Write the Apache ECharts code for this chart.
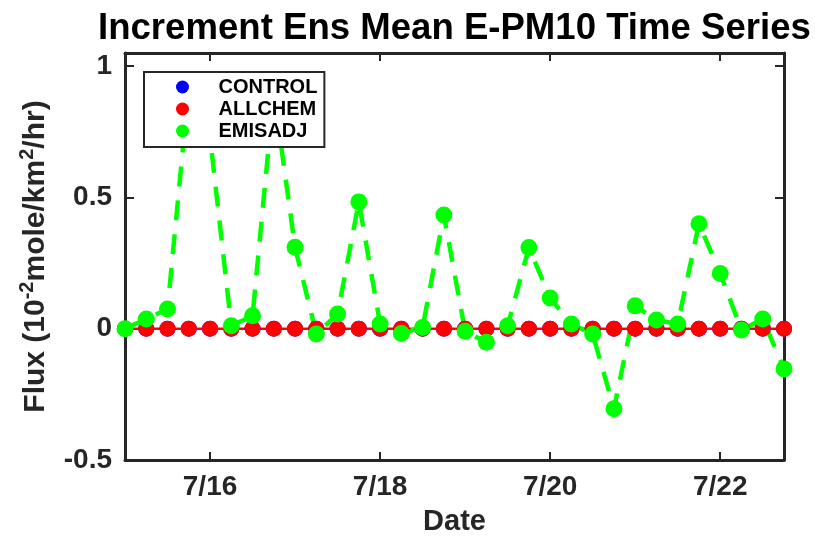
<!DOCTYPE html>
<html>
<head>
<meta charset="utf-8">
<script src="https://cdn.jsdelivr.net/npm/echarts@6/dist/echarts.min.js"></script>
<style>
  html, body { margin: 0; padding: 0; background: #fff; }
  #chart { width: 815px; height: 536px; }
</style>
</head>
<body>
<div id="chart"></div>
<script>
// Sample times, hours after 7/15 00:00 (6-hourly output)
const hours = [0, 6, 12, 18, 24, 30, 36, 42, 48, 54, 60, 66, 72, 78, 84, 90,
               96, 102, 108, 114, 120, 126, 132, 138, 144, 150, 156, 162, 168, 174, 180, 186];

// Ensemble-mean flux increments (10^-2 mole/km^2/hr)
const control = [0, 0, 0, 0, 0, 0, 0, 0, 0, 0, 0, 0, 0, 0, 0, 0,
                 0, 0, 0, 0, 0, 0, 0, 0, 0, 0, 0, 0, 0, 0, 0, 0];
const allchem = [0, 0, 0, 0, 0, 0, 0, 0, 0, 0, 0, 0, 0, 0, 0, 0,
                 0, 0, 0, 0, 0, 0, 0, 0, 0, 0, 0, 0, 0, 0, 0, 0];
const emisadj = [0, 0.037, 0.075, 0.92, 0.73, 0.011, 0.049, 0.9,
                 0.31, -0.02, 0.056, 0.483, 0.018, -0.018, 0.005, 0.433,
                 -0.01, -0.052, 0.011, 0.309, 0.117, 0.018, -0.02, -0.305,
                 0.087, 0.033, 0.018, 0.40, 0.21, -0.005, 0.037, -0.153];

// Axis ticks
const dateTickHours = [24, 72, 120, 168];
const fluxTicks = [-0.5, 0, 0.5, 1];

const FONT = '"Liberation Sans", Arial, Helvetica, sans-serif';
const AXIS_COLOR = '#262626';

function pairs(vals) {
  return hours.map((h, i) => [h, vals[i]]);
}
function dateLabel(h) {
  return '7/' + (15 + h / 24);
}

const chart = echarts.init(document.getElementById('chart'), null, { renderer: 'canvas' });

const xBase = {
  type: 'value', min: 0, max: 186, gridIndex: 0,
  splitLine: { show: false },
  axisLine: { show: true, onZero: false, lineStyle: { color: AXIS_COLOR, width: 3 } }
};

chart.setOption({
  animation: false,
  backgroundColor: '#fff',
  title: {
    text: 'Increment Ens Mean E-PM10 Time Series',
    left: 98,
    top: 10,
    padding: 0,
    textStyle: { fontFamily: FONT, fontWeight: 'bold', fontSize: 36.6, color: '#000' }
  },
  legend: {
    orient: 'vertical',
    left: 144,
    top: 72,
    padding: [4, 7, 5, 32],
    itemWidth: 14,
    itemHeight: 13,
    itemGap: 0,
    backgroundColor: '#fff',
    borderColor: AXIS_COLOR,
    borderWidth: 2,
    textStyle: { fontFamily: FONT, fontWeight: 'bold', fontSize: 20, color: '#000',
                 lineHeight: 22, padding: [0, 0, 0, 24] },
    data: [
      { name: 'CONTROL', icon: 'circle' },
      { name: 'ALLCHEM', icon: 'circle' },
      { name: 'EMISADJ', icon: 'circle' }
    ]
  },
  grid: { left: 125, right: 31, top: 53, bottom: 76, containLabel: false, outerBoundsMode: 'none' },
  xAxis: [
    Object.assign({}, xBase, {
      position: 'bottom',
      name: 'Date',
      nameLocation: 'middle',
      nameGap: 47,
      nameTextStyle: { fontFamily: FONT, fontWeight: 'bold', fontSize: 29, color: AXIS_COLOR },
      axisTick: { show: true, inside: true, length: 8, customValues: dateTickHours,
                  lineStyle: { color: AXIS_COLOR, width: 2 } },
      axisLabel: { show: true, margin: 13, customValues: dateTickHours, formatter: dateLabel,
                   fontFamily: FONT, fontWeight: 'bold', fontSize: 28, color: AXIS_COLOR }
    }),
    Object.assign({}, xBase, {
      position: 'bottom',
      interval: 6,
      axisLine: { show: false },
      axisTick: { show: true, inside: true, length: 4, lineStyle: { color: AXIS_COLOR, width: 2 } },
      axisLabel: { show: false }
    }),
    Object.assign({}, xBase, {
      position: 'top',
      axisTick: { show: true, inside: true, length: 8, customValues: dateTickHours,
                  lineStyle: { color: AXIS_COLOR, width: 2 } },
      axisLabel: { show: false }
    }),
    Object.assign({}, xBase, {
      position: 'top',
      interval: 6,
      axisLine: { show: false },
      axisTick: { show: true, inside: true, length: 4, lineStyle: { color: AXIS_COLOR, width: 2 } },
      axisLabel: { show: false }
    })
  ],
  yAxis: [
    {
      type: 'value', position: 'left', min: -0.5, max: 1.05,
      splitLine: { show: false },
      axisLine: { show: true, onZero: false, lineStyle: { color: AXIS_COLOR, width: 3 } },
      axisTick: { show: true, inside: true, length: 9, customValues: fluxTicks,
                  lineStyle: { color: AXIS_COLOR, width: 2 } },
      axisLabel: { show: true, margin: 13, customValues: fluxTicks,
                   fontFamily: FONT, fontWeight: 'bold', fontSize: 28, color: AXIS_COLOR },
      name: 'Flux (10{sup|-2}mole/km{sup|2}/hr)',
      nameLocation: 'middle',
      nameGap: 62,
      nameRotate: 90,
      nameTextStyle: {
        fontFamily: FONT, fontWeight: 'bold', fontSize: 30, color: AXIS_COLOR, lineHeight: 35,
        rich: {
          sup: { fontFamily: FONT, fontWeight: 'bold', fontSize: 20, color: AXIS_COLOR,
                 verticalAlign: 'top', lineHeight: 20 }
        }
      }
    },
    {
      type: 'value', position: 'right', min: -0.5, max: 1.05,
      splitLine: { show: false },
      axisLine: { show: true, onZero: false, lineStyle: { color: AXIS_COLOR, width: 3 } },
      axisTick: { show: true, inside: true, length: 9, customValues: fluxTicks,
                  lineStyle: { color: AXIS_COLOR, width: 2 } },
      axisLabel: { show: false }
    }
  ],
  series: [
    {
      name: 'CONTROL', type: 'line', xAxisIndex: 0, yAxisIndex: 0,
      data: pairs(control),
      symbol: 'circle', symbolSize: 16, showAllSymbol: true,
      itemStyle: { color: '#0000ff' },
      lineStyle: { color: '#0000ff', width: 2 }
    },
    {
      name: 'ALLCHEM', type: 'line', xAxisIndex: 0, yAxisIndex: 0,
      data: pairs(allchem),
      symbol: 'circle', symbolSize: 16, showAllSymbol: true,
      itemStyle: { color: '#ff0000' },
      lineStyle: { color: '#ff0000', width: 2 }
    },
    {
      name: 'EMISADJ', type: 'line', xAxisIndex: 0, yAxisIndex: 0,
      data: pairs(emisadj),
      symbol: 'circle', symbolSize: 17, showAllSymbol: true,
      itemStyle: { color: '#00ff00' },
      lineStyle: { color: '#00ff00', width: 4.5, type: [20, 14] }
    }
  ]
});
</script>
</body>
</html>
